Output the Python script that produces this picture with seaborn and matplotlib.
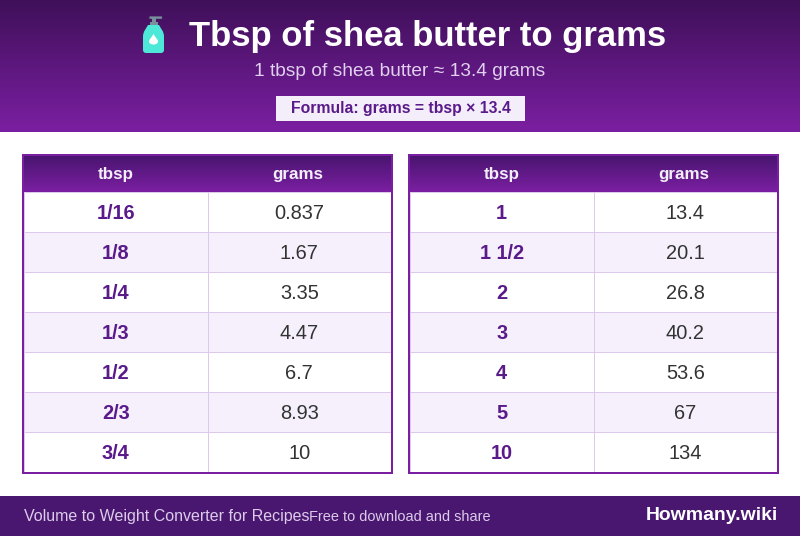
import numpy as np
import matplotlib
matplotlib.use("Agg")
import matplotlib.pyplot as plt
from matplotlib.colors import LinearSegmentedColormap, ListedColormap
from matplotlib.patches import FancyBboxPatch, PathPatch, Rectangle
from matplotlib.path import Path
import seaborn as sns

title = "Tbsp of shea butter to grams"
subtitle = "1 tbsp of shea butter ≈ 13.4 grams"
formula = "Formula: grams = tbsp × 13.4"
col_labels = ["tbsp", "grams"]
tbsp_left = ["1/16", "1/8", "1/4", "1/3", "1/2", "2/3", "3/4"]
grams_left = ["0.837", "1.67", "3.35", "4.47", "6.7", "8.93", "10"]
tbsp_right = ["1", "1 1/2", "2", "3", "4", "5", "10"]
grams_right = ["13.4", "20.1", "26.8", "40.2", "53.6", "67", "134"]
footer_left = "Volume to Weight Converter for Recipes"
footer_mid = "Free to download and share"
footer_right = "Howmany.wiki"

sns.set_theme(style="white")
plt.rcParams["font.family"] = ["Liberation Sans", "DejaVu Sans"]

W, H = 800, 536
fig = plt.figure(figsize=(W / 100, H / 100), dpi=100, facecolor="white")
bg = fig.add_axes([0, 0, 1, 1], zorder=0)
bg.set_xlim(0, W); bg.set_ylim(H, 0); bg.axis("off")

PURPLE = "#7b1fa2"; INK = "#5a1a8a"
grad = LinearSegmentedColormap.from_list("g", ["#3f1059", PURPLE])
ramp = np.linspace(0, 1, 256).reshape(-1, 1)
bg.imshow(ramp, cmap=grad, extent=[0, W, 132, 0], aspect="auto", zorder=1)
bg.set_xlim(0, W); bg.set_ylim(H, 0)

px = 0.72
bg.text(427.5, 36.5, title, color="white", fontsize=34.7 * px, fontweight="bold", ha="center", va="center", zorder=3)
bg.text(399.5, 71, subtitle, color="#e1d0ef", fontsize=19.1 * px, ha="center", va="center", zorder=3)
bg.add_patch(Rectangle((276, 96), 249, 25, fc="#f3eefa", ec="none", zorder=2))
bg.text(400.5, 109, formula, color=INK, fontsize=15.7 * px, fontweight="bold", ha="center", va="center", zorder=3)

# bottle icon
GREY = "#78909c"; TEAL = "#4de8d8"
bg.add_patch(FancyBboxPatch((150, 17), 11.5, 1.2, boxstyle="round,pad=0.6", fc=GREY, ec="none", zorder=3))
bg.add_patch(Rectangle((152, 18), 3.5, 5, fc=GREY, ec="none", zorder=3))
bg.add_patch(Rectangle((150, 22), 8, 5, fc=GREY, ec="none", zorder=3))
body = Path([(148, 25), (159, 25), (161, 29), (164, 31), (164, 37), (164, 50), (164, 53), (161, 53),
             (146, 53), (143, 53), (143, 50), (143, 37), (143, 31), (146, 29), (148, 25)],
            [Path.MOVETO, Path.LINETO, Path.CURVE4, Path.CURVE4, Path.CURVE4, Path.LINETO, Path.CURVE3, Path.CURVE3,
             Path.LINETO, Path.CURVE3, Path.CURVE3, Path.LINETO, Path.CURVE4, Path.CURVE4, Path.CURVE4])
bg.add_patch(PathPatch(body, fc=TEAL, ec="none", zorder=3))
drop = Path([(153.5, 34), (151.5, 37.5), (149, 39.5), (149, 41.5), (149, 45.5), (158, 45.5), (158, 41.5),
             (158, 39.5), (155.5, 37.5), (153.5, 34)],
            [Path.MOVETO] + [Path.CURVE4] * 9)
bg.add_patch(PathPatch(drop, fc="white", ec="none", zorder=4))

# footer
bg.add_patch(Rectangle((0, 496), W, 40, fc="#4a1770", ec="none", zorder=1))
bg.text(24, 517, footer_left, color="#dccbea", fontsize=16 * px, ha="left", va="center", zorder=3)
bg.text(309, 517, footer_mid, color="#dccbea", fontsize=14.5 * px, ha="left", va="center", zorder=3)
bg.text(778, 516, footer_right, color="white", fontsize=19.4 * px, fontweight="bold", ha="right", va="center", zorder=3)


def draw_table(x0, tbsp, grams):
    x1 = x0 + 371
    bg.add_patch(Rectangle((x0, 154), 371, 320, fc=PURPLE, ec="none", zorder=1))
    hdr = np.linspace(0, 1, 64).reshape(-1, 1)
    bg.imshow(hdr, cmap=LinearSegmentedColormap.from_list("h", ["#4a1570", PURPLE]),
              extent=[x0 + 2, x1 - 2, 192, 156], aspect="auto", zorder=2)
    bg.set_xlim(0, W); bg.set_ylim(H, 0)
    for lab, cx in zip(col_labels, [x0 + 93.5, x0 + 275.5]):
        bg.text(cx, 175, lab, color="#f3eefa", fontsize=17 * px, fontweight="bold", ha="center", va="center", zorder=3)
    ax = fig.add_axes([(x0 + 2) / W, 1 - 472 / H, 367 / W, 280 / H], zorder=2)
    stripes = np.array([[i % 2, i % 2] for i in range(len(tbsp))])
    sns.heatmap(stripes, ax=ax, cmap=ListedColormap(["#ffffff", "#f5f0fb"]), cbar=False, vmin=0, vmax=1,
                linewidths=0.72, linecolor="#dcc9ec", xticklabels=False, yticklabels=False,
                square=False)
    ax.tick_params(length=0)
    for r, (a, b) in enumerate(zip(tbsp, grams)):
        ax.text(0.5, r + 0.53, a, color=INK, fontsize=20 * px, fontweight="bold", ha="center", va="center")
        ax.text(1.5, r + 0.53, b, color="#333333", fontsize=20 * px, ha="center", va="center")


draw_table(22, tbsp_left, grams_left)
draw_table(408, tbsp_right, grams_right)

fig.savefig("out.png", dpi=100, facecolor="white")
